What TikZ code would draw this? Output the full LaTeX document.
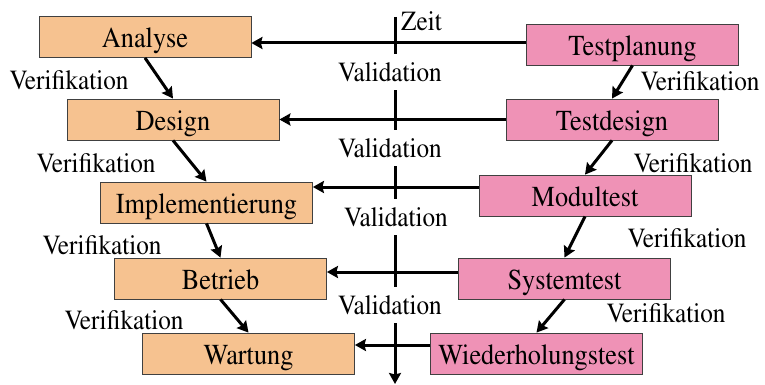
\documentclass[tikz,border=0pt]{standalone}
\usepackage[T1]{fontenc}
\usepackage{graphicx}
\renewcommand{\rmdefault}{ptm}
\usetikzlibrary{arrows.meta}
\definecolor{orangebox}{RGB}{246,194,144}
\definecolor{pinkbox}{RGB}{239,146,182}
\newcommand{\vst}[1]{\scalebox{1}[1.1]{#1}}
\begin{document}
\begin{tikzpicture}[x=1pt,y=-1pt,
  btxt/.style={font=\rmfamily\fontsize{26.3}{30}\selectfont},
  txt/.style={font=\rmfamily\fontsize{25.2}{30}\selectfont},
  box/.style={btxt,draw=black!75,line width=0.8pt,minimum width=212pt,minimum height=41pt,inner sep=0pt,text height=22pt,text depth=0pt},
  lbox/.style={box,fill=orangebox},
  rbox/.style={box,fill=pinkbox},
  lab/.style={txt,inner sep=0pt},
  vlab/.style={txt,fill=white,inner xsep=1pt,inner ysep=8pt},
  arr/.style={line width=3pt,-{Stealth[length=11pt,width=12pt,inset=1.5pt]}},
  axis/.style={line width=3pt,-{Stealth[length=11pt,width=12pt,inset=1.5pt]}}
]
\useasboundingbox (0,0) rectangle (765,385);

% time axis
\coordinate (ztop) at (395,17);
\coordinate (zbot) at (395,384);
\draw[axis] (ztop) -- (zbot);
\node[lab,anchor=west] (zeit) at (401,21) {\vst{Zeit}};

% left boxes
\node[lbox] (an) at (145,37) {\vst{Analyse}};
\node[lbox] (de) at (173,119.5) {\vst{Design}};
\node[lbox] (im) at (206.5,202.5) {\vst{Implementierung}};
\node[lbox] (be) at (220.5,278.5) {\vst{Betrieb}};
\node[lbox] (wa) at (248.5,353.5) {\vst{Wartung}};

% right boxes
\node[rbox] (tp) at (632.5,44.5) {\vst{Testplanung}};
\node[rbox] (td) at (612,119.5) {\vst{Testdesign}};
\node[rbox] (mt) at (585,195.5) {\vst{Modultest}};
\node[rbox] (st) at (564.5,278.5) {\vst{Systemtest}};
\node[rbox] (wh) at (536.5,353.5) {\vst{Wiederholungstest}};

% validation arrows
\coordinate (h1) at ([yshift=1.5pt]tp.west);
\coordinate (h2) at (td.west);
\coordinate (h3) at ([yshift=8.5pt]mt.west);
\coordinate (h4) at ([yshift=6.5pt]st.west);
\coordinate (h5) at ([yshift=8.5pt]wh.west);
\draw[arr] (h1) -- (h1 -| an.east);
\draw[arr] (h2) -- (h2 -| de.east);
\draw[arr] (h3) -- (h3 -| im.east);
\draw[arr] (h4) -- (h4 -| be.east);
\draw[arr] (h5) -- (h5 -| wa.east);

\node[vlab] (v1) at (390,72) {\vst{Validation}};
\node[vlab] (v2) at (390,148) {\vst{Validation}};
\node[vlab] (v3) at (396,217) {\vst{Validation}};
\node[vlab] (v4) at (390,305) {\vst{Validation}};

% verification arrows
\draw[arr] (an.south) -- (de.north);
\draw[arr] (de.south) -- (im.north);
\draw[arr] (im.south) -- (be.north);
\draw[arr] (be.south) -- (wa.north);
\draw[arr] (tp.south) -- (td.north);
\draw[arr] (td.south) -- (mt.north);
\draw[arr] (mt.south) -- (st.north);
\draw[arr] (st.south) -- (wh.north);

\node[lab] (l1) at (69,80) {\vst{Verifikation}};
\node[lab] (l2) at (96,163) {\vst{Verifikation}};
\node[lab] (l3) at (102,245) {\vst{Verifikation}};
\node[lab] (l4) at (124,320) {\vst{Verifikation}};
\node[lab] (r1) at (700,81) {\vst{Verifikation}};
\node[lab] (r2) at (693,163) {\vst{Verifikation}};
\node[lab] (r3) at (687,238) {\vst{Verifikation}};
\node[lab] (r4) at (666,313) {\vst{Verifikation}};
\end{tikzpicture}
\end{document}
